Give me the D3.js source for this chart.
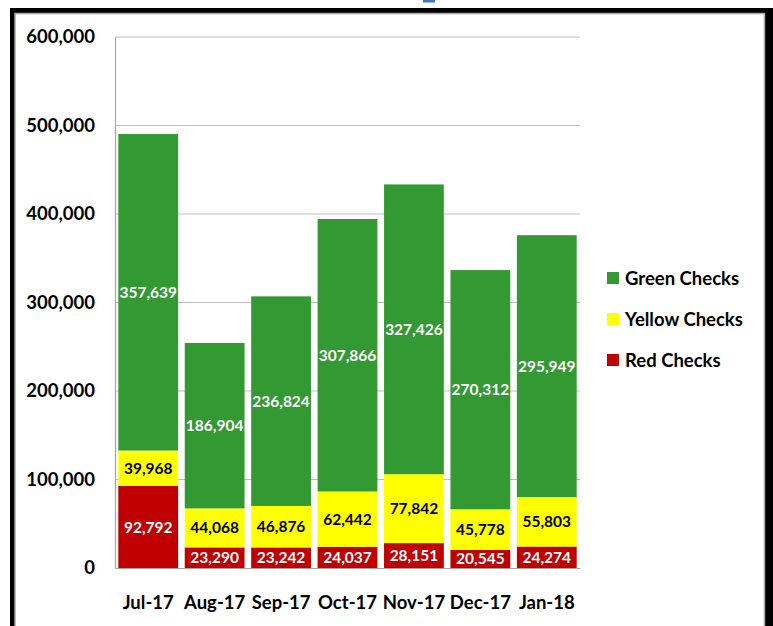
<!DOCTYPE html>
<html>
<head>
<meta charset="utf-8">
<script src="https://cdn.jsdelivr.net/npm/d3@7"></script>
<style>
  body { margin: 0; background: #fff; }
  text { font-family: Lato, "Open Sans", sans-serif; font-weight: bold; }
</style>
</head>
<body>
<script>
// chart data
var months = ["Jul-17", "Aug-17", "Sep-17", "Oct-17", "Nov-17", "Dec-17", "Jan-18"];
var redChecks = [92792, 23290, 23242, 24037, 28151, 20545, 24274];
var yellowChecks = [39968, 44068, 46876, 62442, 77842, 45778, 55803];
var greenChecks = [357639, 186904, 236824, 307866, 327426, 270312, 295949];
var seriesNames = ["Red Checks", "Yellow Checks", "Green Checks"];
var yTicks = [0, 100000, 200000, 300000, 400000, 500000, 600000];

var w = 773, h = 626;
var colors = { "Red Checks": "#c00000", "Yellow Checks": "#ffff00", "Green Checks": "#339933" };
var labelColors = { "Red Checks": "#fff", "Yellow Checks": "#000", "Green Checks": "#fff" };

var svg = d3.select("body").append("svg")
    .attr("width", w)
    .attr("height", h);

// frame round the chart
svg.append("rect").attr("x", 10).attr("y", 8).attr("width", w).attr("height", h).attr("fill", "#000");
svg.append("rect").attr("x", 15).attr("y", 13.5).attr("width", 749.5).attr("height", h)
    .attr("fill", "#fff").attr("stroke", "#a6a6a6").attr("stroke-width", 1.5);
// bit of the cut-off title
svg.append("rect").attr("x", 423).attr("y", 0).attr("width", 12).attr("height", 2.5).attr("fill", "#4472c4");

// build stacked table
var table = months.map(function(m, i) {
    return { month: m, "Red Checks": redChecks[i], "Yellow Checks": yellowChecks[i], "Green Checks": greenChecks[i] };
});
var stacked = d3.stack().keys(seriesNames)(table);

var x = d3.scaleBand()
    .domain(months)
    .range([115, 580])
    .paddingInner(0.1)
    .paddingOuter(0.05);

var y = d3.scaleLinear()
    .domain([0, 600000])
    .range([568, 37]);

// gridlines
svg.append("g")
    .selectAll("line")
    .data(yTicks.slice(1))
    .enter()
    .append("line")
    .attr("x1", 115).attr("x2", 580)
    .attr("y1", function(d) { return y(d); })
    .attr("y2", function(d) { return y(d); })
    .attr("stroke", "#bfbfbf")
    .attr("stroke-width", 1.2);

// y axis
var yAxis = svg.append("g")
    .attr("transform", "translate(115,0)")
    .call(d3.axisLeft(y).tickValues(yTicks).tickFormat(d3.format(",")).tickSize(0).tickPadding(20));
yAxis.select(".domain").attr("stroke", "#a6a6a6").attr("stroke-width", 1.2);
yAxis.selectAll("text").style("font-size", "18.5px").attr("fill", "#000");

// x axis
var xAxis = svg.append("g")
    .attr("transform", "translate(0,568)")
    .call(d3.axisBottom(x).tickSize(0).tickPadding(28).tickSizeOuter(0));
xAxis.select(".domain").attr("stroke", "#a6a6a6").attr("stroke-width", 1.2);
xAxis.selectAll("text").style("font-size", "18.5px").attr("fill", "#000");

// bars
var layers = svg.append("g")
    .selectAll("g")
    .data(stacked)
    .enter()
    .append("g")
    .attr("fill", function(d) { return colors[d.key]; });

layers.selectAll("rect")
    .data(function(d) { return d; })
    .enter()
    .append("rect")
    .attr("x", function(d) { return x(d.data.month); })
    .attr("y", function(d) { return y(d[1]); })
    .attr("width", x.bandwidth())
    .attr("height", function(d) { return y(d[0]) - y(d[1]); });

// value labels
stacked.forEach(function(layer) {
    svg.append("g")
        .selectAll("text")
        .data(layer)
        .enter()
        .append("text")
        .attr("x", function(d) { return x(d.data.month) + x.bandwidth() / 2; })
        .attr("y", function(d) { return (y(d[0]) + y(d[1])) / 2; })
        .attr("dy", "0.36em")
        .attr("text-anchor", "middle")
        .style("font-size", "15.5px")
        .attr("fill", labelColors[layer.key])
        .text(function(d) { return d3.format(",")(d[1] - d[0]); });
});

// legend
var legend = svg.append("g")
    .selectAll("g")
    .data(seriesNames.slice().reverse())
    .enter()
    .append("g")
    .attr("transform", function(d, i) { return "translate(607," + (278 + i * 41) + ")"; });

legend.append("rect")
    .attr("x", 0).attr("y", -6)
    .attr("width", 12).attr("height", 12)
    .attr("fill", function(d) { return colors[d]; });

legend.append("text")
    .attr("x", 18)
    .attr("dy", "0.36em")
    .style("font-size", "18.5px")
    .attr("fill", "#000")
    .text(function(d) { return d; });
</script>
</body>
</html>
